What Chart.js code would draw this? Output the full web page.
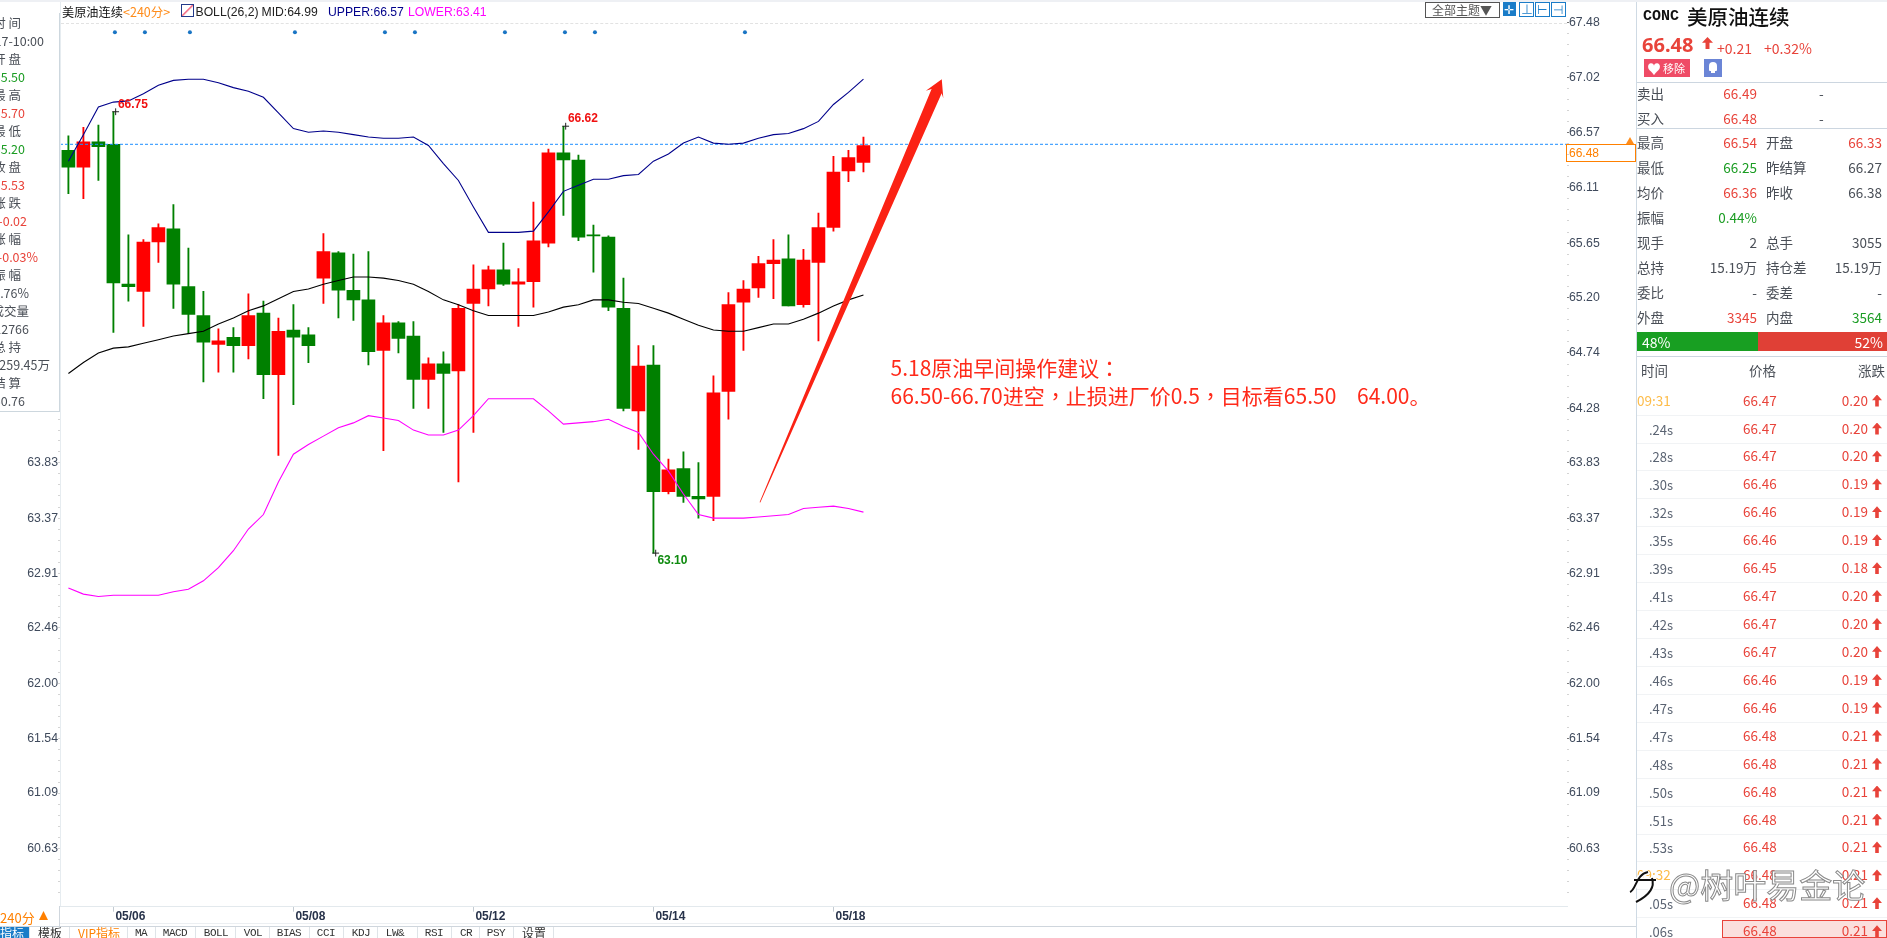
<!DOCTYPE html>
<html>
<head>
<meta charset="utf-8">
<title>美原油连续</title>
<script src="https://cdn.jsdelivr.net/npm/chart.js@4"></script>
<style>
@font-face{font-family:"NotePunct";src:local("Noto Sans CJK TC");unicode-range:U+FF0C,U+FF1A}
html,body{margin:0;padding:0;background:#fff}
#page{position:relative;width:1887px;height:938px;overflow:hidden;font-family:"Noto Sans CJK SC","Noto Sans",sans-serif;font-size:13.5px;color:#4a4f57}
#chart{position:absolute;left:0;top:0}
.t{position:absolute;white-space:pre;transform:translateY(-50%);line-height:1}
.box{position:absolute}
</style>
</head>
<body>
<div id="page"><canvas id="chart" width="1636" height="938"></canvas></div>
<script>
// candles
const opens = [66.42,66.28,66.49,66.47,65.31,65.25,65.66,65.77,65.29,65.05,64.81,64.87,64.80,65.07,64.56,64.93,64.89,65.36,65.57,65.26,65.18,64.76,64.99,64.88,64.52,64.65,64.59,65.15,65.27,65.43,65.31,65.33,65.65,66.40,66.34,65.72,65.70,65.11,64.26,64.64,63.59,63.78,63.55,63.55,64.42,65.16,65.28,65.48,65.52,65.14,65.49,65.78,66.25,66.32]
const closes = [66.28,66.49,66.45,65.32,65.29,65.66,65.78,65.31,65.06,64.83,64.84,64.80,65.05,64.56,64.92,64.87,64.80,65.58,65.26,65.18,64.75,64.99,64.86,64.52,64.65,64.57,65.11,65.27,65.43,65.31,65.33,65.67,66.40,66.34,65.70,65.71,65.12,64.28,64.63,63.59,63.77,63.55,63.53,64.41,65.14,65.27,65.48,65.51,65.13,65.51,65.78,66.24,66.36,66.46]
const highs = [66.54,66.61,66.63,66.74,65.72,65.68,65.81,65.97,65.61,65.25,64.94,64.95,65.23,65.17,65.03,65.14,64.95,65.73,65.58,65.56,65.58,65.05,65.00,65.00,64.70,64.75,65.14,65.47,65.46,65.65,65.44,65.99,66.43,66.62,66.38,65.80,65.71,65.36,64.80,64.80,63.86,63.92,63.83,64.55,65.24,65.34,65.54,65.68,65.72,65.60,65.90,66.37,66.42,66.53]
const lows = [66.06,66.02,66.17,64.91,65.17,64.96,65.49,65.11,64.90,64.50,64.58,64.58,64.69,64.36,63.89,64.31,64.66,65.15,65.03,65.01,64.64,63.93,64.74,64.28,64.28,64.08,63.67,64.08,65.13,65.30,64.96,65.12,65.62,65.88,65.67,65.41,65.09,64.26,63.94,63.08,63.57,63.50,63.37,63.35,64.19,64.76,65.20,65.19,65.13,65.12,64.84,65.75,66.16,66.24]

// BOLL(26,2)
const upper = [66.33,66.55,66.78,66.82,66.83,66.89,66.96,67.00,67.01,67.01,66.98,66.94,66.91,66.86,66.73,66.60,66.57,66.58,66.57,66.55,66.53,66.52,66.52,66.53,66.46,66.31,66.17,65.95,65.74,65.74,65.74,65.75,65.91,66.08,66.13,66.18,66.18,66.21,66.22,66.33,66.39,66.48,66.53,66.48,66.47,66.48,66.52,66.55,66.56,66.60,66.66,66.80,66.90,67.01]
const mid = [64.57,64.66,64.74,64.78,64.79,64.82,64.85,64.88,64.90,64.92,64.98,65.03,65.09,65.13,65.19,65.25,65.27,65.31,65.34,65.37,65.37,65.36,65.34,65.31,65.25,65.18,65.14,65.09,65.05,65.05,65.05,65.05,65.08,65.12,65.14,65.18,65.18,65.16,65.15,65.11,65.07,65.02,64.97,64.93,64.92,64.92,64.95,64.98,64.98,65.02,65.07,65.13,65.18,65.22]
const lower = [62.79,62.74,62.72,62.73,62.73,62.73,62.73,62.76,62.78,62.85,62.96,63.10,63.28,63.40,63.67,63.90,63.98,64.05,64.12,64.16,64.22,64.20,64.18,64.10,64.06,64.06,64.10,64.22,64.36,64.36,64.36,64.36,64.26,64.15,64.16,64.17,64.19,64.13,64.08,63.90,63.76,63.57,63.40,63.37,63.37,63.37,63.38,63.39,63.40,63.45,63.46,63.47,63.45,63.42]

const priceTicks = [67.48,67.02,66.57,66.11,65.65,65.20,64.74,64.28,63.83,63.37,62.91,62.46,62.00,61.54,61.09,60.63]
const dateTicks = [3,15,27,39,51]
const dateLabels = ['05/06','05/08','05/12','05/14','05/18']
const lastPrice = 66.47
const signalBars = [3,5,8,15,21,23,29,33,35,45]
const signalLevel = 67.40
const extremeBars = [3,33,39]
const extremeValues = [66.74,66.62,63.08]
const extremeLabels = ['66.75','66.62','63.10']
const arrowX = [46.1,58.22]
const arrowY = [63.50,67.01]

// side panel
const bookRows = [['卖出','66.49','-'],['买入','66.48','-']]
const quoteRows = [
  ['最高','66.54','r','开盘','66.33','r'],
  ['最低','66.25','g','昨结算','66.27','k'],
  ['均价','66.36','r','昨收','66.38','k'],
  ['振幅','0.44%','g','','',''],
  ['现手','2','k','总手','3055','k'],
  ['总持','15.19万','k','持仓差','15.19万','k'],
  ['委比','-','k','委差','-','k'],
  ['外盘','3345','r','内盘','3564','g']
]
const tradeTimes = ['09:31','.24s','.28s','.30s','.32s','.35s','.39s','.41s','.42s','.43s','.46s','.47s','.47s','.48s','.50s','.51s','.53s','09:32','.05s','.06s']
const tradePrices = ['66.47','66.47','66.47','66.46','66.46','66.46','66.45','66.47','66.47','66.47','66.46','66.46','66.48','66.48','66.48','66.48','66.48','66.48','66.48','66.48']
const tradeChanges = ['0.20','0.20','0.20','0.19','0.19','0.19','0.18','0.20','0.20','0.20','0.19','0.19','0.21','0.21','0.21','0.21','0.21','0.21','0.21','0.21']
const infoRows = [
  ['时 间',21,'k'],['05-17-10:00',44,'k'],['开 盘',21,'k'],['65.50',25,'g'],['最 高',21,'k'],['65.70',25,'r'],
  ['最 低',21,'k'],['65.20',25,'g'],['收 盘',21,'k'],['65.53',25,'r'],['涨 跌',21,'k'],['-0.02',27,'r'],
  ['涨 幅',21,'k'],['-0.03%',38,'r'],['振 幅',21,'k'],['0.76%',29,'k'],['成交量',29,'k'],['12766',29,'k'],
  ['总 持',21,'k'],['1259.45万',50,'k'],['结 算',21,'k'],['60.76',25,'k']
]
const tabNames = [['MA',141],['MACD',175],['BOLL',216],['VOL',253],['BIAS',289],['CCI',326],['KDJ',361],['LW&',395],['RSI',434],['CR',466],['PSY',496]]

const RED = '#e8433a', GREEN = '#1a9c22', DARK = '#4a4f57'
const tone = {r: RED, g: GREEN, k: DARK}
const page = document.getElementById('page')

function txt(s, x, y, css) {
  let el = document.createElement('div')
  el.className = 't'
  el.textContent = s
  el.style.cssText = 'left:' + x + 'px;top:' + y + 'px;' + (css || '')
  page.appendChild(el)
  return el
}
// same, but x is the right edge
function rtxt(s, x, y, css) {
  return txt(s, x - 200, y, 'width:200px;text-align:right;' + (css || ''))
}
function box(x, y, w, h, css) {
  let el = document.createElement('div')
  el.className = 'box'
  el.style.cssText = 'left:' + x + 'px;top:' + y + 'px;width:' + w + 'px;height:' + h + 'px;' + (css || '')
  page.appendChild(el)
  return el
}
function upArrow(x, y, w, h) {
  box(x, y, w, h, 'background:' + RED + ';clip-path:polygon(50% 0,100% 48%,68% 48%,68% 100%,32% 100%,32% 48%,0 48%)')
}

// price axis ticks: labelled ones plus four small ones in each gap
const allTicks = []
priceTicks.forEach((v, i) => {
  allTicks.push(v)
  let step = (priceTicks[i + 1] === undefined ? v - (priceTicks[i - 1] - v) : priceTicks[i + 1])
  for (let k = 1; k < 5; k++) allTicks.push(v + (step - v) * k / 5)
})

function priceAxis(position, width, mainColor) {
  return {
    type: 'linear',
    position: position,
    min: 60.148,
    max: 67.48,
    afterBuildTicks: axis => { axis.ticks = allTicks.map(v => ({value: v})) },
    afterFit: axis => { axis.width = width },
    border: {display: false},
    grid: {
      drawOnChartArea: false,
      tickLength: 2,
      tickColor: c => priceTicks.includes(c.tick && c.tick.value) ? mainColor : '#d4d4d4'
    },
    ticks: {
      autoSkip: false,
      padding: 0,
      color: '#3f4a5c',
      font: {family: '"Liberation Sans"', size: 12.3},
      callback: v => priceTicks.includes(v) ? v.toFixed(2) : ''
    }
  }
}

// high/low labels and the hand-drawn red arrow
const annotate = {
  id: 'annotate',
  afterDatasetsDraw(chart) {
    const {ctx, scales: {x, y}} = chart
    ctx.save()
    ctx.font = 'bold 12px "Liberation Sans"'
    ctx.textBaseline = 'middle'
    extremeBars.forEach((b, i) => {
      let low = i === 2
      ctx.fillStyle = low ? '#0e8a0e' : '#f01010'
      ctx.fillText(extremeLabels[i], x.getPixelForValue(b) + (low ? 4 : 4.5), y.getPixelForValue(extremeValues[i]) + (low ? 7.5 : -7.5))
    })
    let x0 = x.getPixelForValue(arrowX[0]), y0 = y.getPixelForValue(arrowY[0])
    let x1 = x.getPixelForValue(arrowX[1]), y1 = y.getPixelForValue(arrowY[1])
    let len = Math.hypot(x1 - x0, y1 - y0)
    let ux = (x1 - x0) / len, uy = (y1 - y0) / len, nx = -uy, ny = ux
    let at = (d, w) => [x0 + ux * d + nx * w, y0 + uy * d + ny * w]
    let pts = [at(0, -0.4), at(len - 13, -5.5), at(len - 17, -10), [x1, y1], at(len - 17, 9), at(len - 13, 5.5), at(0, 0.4)]
    ctx.fillStyle = '#fb2214'
    ctx.beginPath()
    pts.forEach((p, i) => i ? ctx.lineTo(p[0], p[1]) : ctx.moveTo(p[0], p[1]))
    ctx.closePath()
    ctx.fill()
    ctx.restore()
  }
}

const candleColor = opens.map((o, i) => closes[i] >= o ? '#ff0000' : '#008000')
const series = arr => arr.map((v, i) => ({x: i, y: v}))
const boll = (arr, color) => ({type: 'line', data: series(arr), borderColor: color, borderWidth: 1.1, pointRadius: 0, tension: 0, order: 1})

new Chart(document.getElementById('chart'), {
  type: 'bar',
  data: {
    datasets: [
      {data: lows.map((l, i) => ({x: i, y: [l, highs[i]]})), backgroundColor: candleColor, barThickness: 1.2, grouped: false, order: 4},
      {data: opens.map((o, i) => ({x: i, y: [o, closes[i]]})), backgroundColor: candleColor, barThickness: 13, grouped: false, order: 3},
      boll(upper, '#00008b'),
      boll(mid, '#000000'),
      boll(lower, '#ff00ff'),
      {type: 'line', data: [{x: -0.56, y: lastPrice}, {x: 99.9, y: lastPrice}], borderColor: '#1e8fff', borderWidth: 1, borderDash: [3, 2], pointRadius: 0, order: 2},
      {type: 'scatter', data: signalBars.map(b => ({x: b + 0.1, y: signalLevel})), backgroundColor: '#1a75c4', pointRadius: 2, pointBorderWidth: 0, order: 1},
      {type: 'scatter', data: extremeBars.map((b, i) => ({x: b + 0.15, y: extremeValues[i]})), borderColor: '#222', pointStyle: 'cross', pointRadius: 3.4, pointBorderWidth: 1, order: 0}
    ]
  },
  options: {
    responsive: false,
    animation: false,
    devicePixelRatio: 1,
    layout: {padding: {top: 22.5, left: 0, right: 0, bottom: 0}},
    plugins: {legend: {display: false}, tooltip: {enabled: false}},
    scales: {
      x: {
        type: 'linear',
        min: -0.56,
        max: 99.9,
        offset: false,
        afterBuildTicks: axis => { axis.ticks = dateTicks.map(v => ({value: v})) },
        afterFit: axis => { axis.height = 31.3 },
        border: {color: '#e3e9ed'},
        // the bar defaults shift grid ticks half a step otherwise
        grid: {offset: false, drawOnChartArea: false, tickLength: 5, tickColor: '#c3cbd2'},
        ticks: {
          autoSkip: false,
          maxRotation: 0,
          align: 'start',
          labelOffset: 2,
          padding: -2,
          color: '#27324a',
          font: {family: '"Liberation Sans"', size: 12, weight: 'bold'},
          callback: v => dateLabels[dateTicks.indexOf(v)]
        }
      },
      y: priceAxis('right', 69, '#777'),
      yl: priceAxis('left', 60, '#d4d4d4')
    }
  },
  plugins: [annotate]
})

// frame of the chart pane
box(0, 0, 1887, 2, 'background:#eef0f4')
box(60, 2, 1, 904, 'background:#e6ecf0')
box(61, 23, 1506, 0, 'border-top:1px dashed #e2e2e2')
box(1636, 2, 1, 936, 'background:#cfdae4')

// title row
txt('美原油连续', 62, 12, 'font-size:12.2px;color:#111')
txt('<240分>', 123, 12, 'font-size:12.5px;color:#ff8c1a')
box(181, 4, 11, 11, 'border:1px solid #223a8a;background:linear-gradient(135deg,#fff 45%,#e35 46%,#fff 60%)')
txt('BOLL(26,2)', 195.5, 12, 'font:12.2px "Liberation Sans";color:#222')
txt('MID:64.99', 261.5, 12, 'font:12.2px "Liberation Sans";color:#222')
txt('UPPER:66.57', 328, 12, 'font:12.2px "Liberation Sans";color:#00008b')
txt('LOWER:63.41', 408, 12, 'font:12.2px "Liberation Sans";color:#ff00ff')

// toolbar top right
box(1425, 2, 73, 14, 'border:1px solid #555')
txt('全部主题▼', 1432, 10, 'font-size:12px;color:#555')
box(1503, 2, 13, 14, 'background:#1a7cc8')
txt('✛', 1504, 9, 'font-size:12px;color:#fff')
;[1519, 1535, 1551].forEach((x, i) => {
  box(x, 2, 13, 13, 'border:1px solid #1a7cc8')
  txt(['⊥', '⊢', '⊣'][i], x + 2, 9, 'font-size:12px;color:#1a7cc8')
})

// instruction text
const noteCss = 'font-family:NotePunct,"Noto Sans CJK SC";font-size:21px;color:#ff2a1a;word-spacing:2.2px'
txt('5.18原油早间操作建议：', 890.5, 366.5, noteCss)
txt('66.50-66.70进空，止损进厂价0.5，目标看65.50   64.00。', 890.5, 395, noteCss)

// current price tag
box(1566, 144, 68, 16, 'border:1px solid #ff8000')
txt('66.48', 1569, 153, 'font:12px "Liberation Sans";color:#ff8000')
box(1626, 137, 8, 7, 'background:#ff8c1a;clip-path:polygon(50% 0,100% 100%,0 100%)')

// overlay panel on the left
box(0, 13, 59, 398, 'background:#fff;border-right:1px solid #cdd7de;border-bottom:1px solid #cdd7de')
infoRows.forEach((r, i) => {
  rtxt(r[0], r[1], 22.5 + 18 * i, 'font-size:12.5px;color:' + tone[r[2]])
})

// bottom strip
box(60, 923, 880, 1, 'background:#eceff2')
box(0, 926, 1636, 1, 'background:#cfd6dd')
box(59, 906, 1, 20, 'background:#cfd6dd')
txt('240分', 0, 916.5, 'font-size:13px;color:#ff8000')
box(39, 911, 9, 9, 'background:#ff8000;clip-path:polygon(50% 0,100% 100%,0 100%)')
box(0, 927, 29, 11, 'background:#1a7cc8')
txt('指标', 0, 933, 'font-size:12px;color:#fff')
txt('模板', 38, 933, 'font-size:12px;color:#333')
txt('VIP指标', 78, 933, 'font-size:12px;color:#ff8000')
tabNames.forEach(t => {
  txt(t[0], t[1] - 30, 933, 'width:60px;text-align:center;font:11px "Liberation Mono";letter-spacing:-.5px;color:#333')
})
txt('设置', 522, 933, 'font-size:12px;color:#333')
;[29, 69, 127, 155, 195, 235, 269, 309, 343, 377, 417, 451, 479, 513, 553].forEach(x => box(x, 927, 1, 11, 'background:#dfe4e8'))

// right panel: head
txt('CONC', 1643, 16, 'font:bold 15px "Liberation Mono";color:#111')
txt('美原油连续', 1687, 16, 'font-size:20.5px;font-weight:500;color:#111')
txt('66.48', 1642, 44, 'font:bold 20px "Noto Sans";color:' + RED)
upArrow(1702, 37, 11, 12)
txt('+0.21', 1717, 48, 'font-size:14px;color:' + RED)
txt('+0.32%', 1764, 48, 'font-size:14px;color:' + RED)
box(1644, 59, 46, 18, 'background:#ef4b66')
txt('♥', 1647, 68, 'font-size:14px;color:#fff')
txt('移除', 1663, 68, 'font-size:11px;color:#fff')
box(1704, 59, 18, 18, 'background:#6b85d6')
box(1709, 62, 8, 9, 'background:#fff;border-radius:4px 4px 1px 1px')
box(1711, 71, 4, 2, 'background:#fff')
box(1637, 82, 250, 1, 'background:#ccd6e0')

bookRows.forEach((r, i) => {
  let y = 94 + 24.5 * i
  txt(r[0], 1637, y)
  rtxt(r[1], 1757, y, 'color:' + RED)
  txt(r[2], 1819, y)
})
box(1637, 128, 250, 1, 'background:#ccd6e0')

quoteRows.forEach((r, i) => {
  let y = 143 + 25 * i
  txt(r[0], 1637, y)
  rtxt(r[1], 1757, y, 'color:' + tone[r[2]])
  txt(r[3], 1766, y)
  rtxt(r[4], 1882, y, 'color:' + (tone[r[5]] || DARK))
})

box(1637, 332, 121, 19, 'background:#189f22')
box(1758, 332, 129, 19, 'background:#e04036')
txt('48%', 1642, 342, 'color:#fff;font-size:14px')
rtxt('52%', 1883, 342, 'color:#fff;font-size:14px')
box(1637, 356, 250, 1, 'background:#ccd6e0')

txt('时间', 1641, 371)
txt('价格', 1749, 371)
rtxt('涨跌', 1885, 371)

box(1722, 920, 165, 18, 'background:#fbdfdd;border:1px solid ' + RED + ';box-sizing:border-box')
tradeTimes.forEach((s, i) => {
  let y = 400.6 + 27.93 * i
  if (s.includes(':')) txt(s, 1637, y, 'color:#fdbc4a')
  else txt(s, 1649, y, 'font-size:13px;color:#5a6372')
  txt(tradePrices[i], 1743, y, 'color:' + RED)
  rtxt(tradeChanges[i], 1868, y, 'color:' + RED)
  upArrow(1872, y - 6, 10, 12)
  if (i < tradeTimes.length - 1) box(1637, y + 14, 250, 1, 'background:#f1f3f5')
})

// watermark
txt('@树叶易金论', 1669, 884, 'font-size:33px;color:#fff;-webkit-text-stroke:1px #8a8a8a')
page.insertAdjacentHTML('beforeend', '<svg class="box" style="left:1626px;top:868px" width="38" height="40"><path d="M4 24 C10 22 10 6 22 4 M8 12 H30 M26 10 C30 22 18 30 10 34" fill="none" stroke="#fff" stroke-width="5"/><path d="M4 24 C10 22 10 6 22 4 M8 12 H30 M26 10 C30 22 18 30 10 34" fill="none" stroke="#111" stroke-width="2"/></svg>')
</script>
</body>
</html>
